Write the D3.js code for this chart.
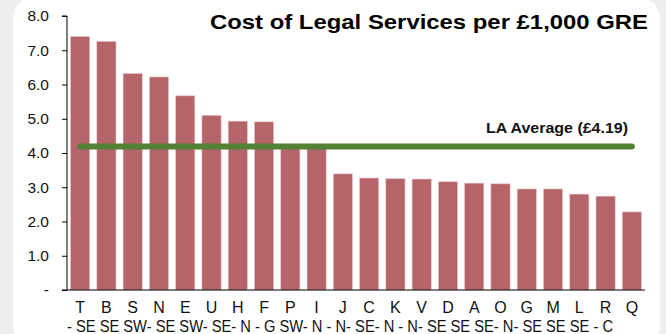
<!DOCTYPE html>
<html><head><meta charset="utf-8">
<script src="https://cdn.jsdelivr.net/npm/d3@7"></script>
<style>html,body{margin:0;padding:0;background:#eeeeee;}svg{display:block;} text{font-family:Arial,"Liberation Sans",sans-serif;}</style>
</head><body>
<svg id="c" width="666" height="334"></svg>
<script>
const categories = ["T","B","S","N","E","U","H","F","P","I","J","C","K","V","D","A","O","G","M","L","R","Q"];
const regions = ["- SE","SE","SW-","SE","SW-","SE-","N","- G","SW-","N","- N-","SE-","N","- N-","SE","SE","SE-","N-","SE","SE","SE","- C"];
const values = [7.40,7.26,6.32,6.22,5.67,5.10,4.93,4.91,4.22,4.16,3.39,3.27,3.25,3.24,3.16,3.12,3.10,2.95,2.95,2.80,2.74,2.28];
const average = 4.19;
const yTicks = [0,1,2,3,4,5,6,7,8];
const title = "Cost of Legal Services per £1,000 GRE";
const avgLabel = "LA Average (£4.19)";

const svg = d3.select("#c");
svg.append("rect").attr("x",13).attr("y",-2).attr("width",647).attr("height",348).attr("rx",20).attr("fill","#ffffff");

const x = d3.scaleBand().domain(categories).range([67,645]).paddingInner(0.27).paddingOuter(0.135);
const y = d3.scaleLinear().domain([0,8]).range([290,16]);

svg.append("g").selectAll("rect").data(values).join("rect")
  .attr("x",(d,i)=>x(categories[i])).attr("width",x.bandwidth())
  .attr("y",d=>y(d)).attr("height",d=>y(0)-y(d))
  .attr("fill","#b5646a").attr("stroke","#e9c5c7").attr("stroke-width",0.6);

const yAxis = d3.axisLeft(y).tickValues(yTicks).tickSize(5).tickPadding(13)
  .tickFormat(d=> d===0 ? "-" : d3.format(".1f")(d));
const ga = svg.append("g").attr("transform","translate(67,0)").call(yAxis);
ga.attr("font-family",null);
ga.select(".domain").attr("d","M-5,"+y(8)+"H0V"+y(0)).attr("stroke","#000");
ga.selectAll(".tick line").attr("stroke","#000");
ga.selectAll(".tick text").attr("font-size",15.5).attr("fill","#111");

svg.append("line").attr("x1",62).attr("x2",645).attr("y1",y(0)).attr("y2",y(0)).attr("stroke","#000").attr("stroke-width",1.2);

svg.append("g").selectAll("text").data(categories).join("text")
  .attr("x",d=>x(d)+x.bandwidth()/2).attr("y",313).attr("text-anchor","middle")
  .attr("font-size",16).attr("fill","#111").text(d=>d);

svg.append("text").attr("x",67).attr("y",332).attr("font-size",16).attr("fill","#111")
  .attr("textLength",546).attr("lengthAdjust","spacingAndGlyphs").text(regions.join(" "));

svg.append("line")
  .attr("x1",x(categories[0])+x.bandwidth()/2).attr("x2",x(categories[categories.length-1])+x.bandwidth()/2)
  .attr("y1",y(average)).attr("y2",y(average))
  .attr("stroke","#548235").attr("stroke-width",6).attr("stroke-linecap","round");

svg.append("text").attr("x",486).attr("y",133)
  .attr("font-weight","bold").attr("font-size",14.5).attr("fill","#111")
  .attr("textLength",142).attr("lengthAdjust","spacingAndGlyphs").text(avgLabel);

svg.append("text").attr("x",210).attr("y",29)
  .attr("font-weight","bold").attr("font-size",21).attr("fill","#000")
  .attr("textLength",438).attr("lengthAdjust","spacingAndGlyphs").text(title);
</script>
</body></html>
